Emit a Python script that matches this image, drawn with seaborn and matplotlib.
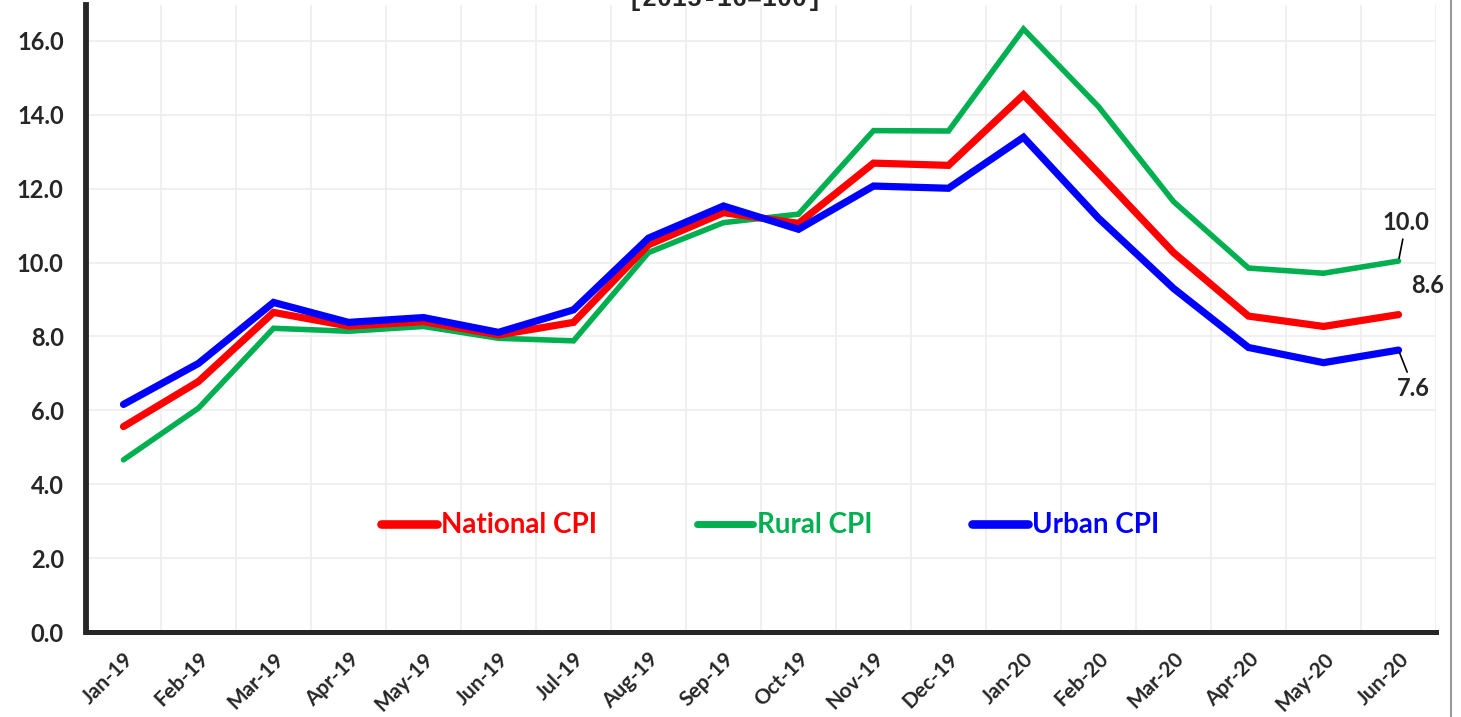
import pandas as pd
import seaborn as sns
import matplotlib.pyplot as plt
from matplotlib.lines import Line2D
from matplotlib.ticker import FixedLocator, NullFormatter

# data
months = ["Jan-19", "Feb-19", "Mar-19", "Apr-19", "May-19", "Jun-19", "Jul-19", "Aug-19", "Sep-19",
          "Oct-19", "Nov-19", "Dec-19", "Jan-20", "Feb-20", "Mar-20", "Apr-20", "May-20", "Jun-20"]
national = [5.56, 6.78, 8.65, 8.28, 8.40, 8.04, 8.38, 10.48, 11.35, 11.06, 12.69, 12.63,
            14.54, 12.42, 10.27, 8.55, 8.27, 8.59]
rural = [4.66, 6.06, 8.22, 8.14, 8.27, 7.95, 7.88, 10.27, 11.08, 11.31, 13.57, 13.56,
         16.32, 14.22, 11.65, 9.85, 9.71, 10.04]
urban = [6.16, 7.27, 8.92, 8.38, 8.51, 8.11, 8.72, 10.66, 11.53, 10.90, 12.07, 12.01,
         13.39, 11.20, 9.30, 7.70, 7.29, 7.63]

series = ["National CPI", "Rural CPI", "Urban CPI"]
colors = {"National CPI": "#FF0000", "Rural CPI": "#00B050", "Urban CPI": "#0000FF"}
widths = {"National CPI": 5.2, "Rural CPI": 4.0, "Urban CPI": 5.2}

df = pd.DataFrame({"idx": range(len(months)), "month": months,
                   "National CPI": national, "Rural CPI": rural, "Urban CPI": urban})
long = df.melt(id_vars=["idx", "month"], value_vars=series, var_name="series", value_name="cpi")

sns.set_style("white")
plt.rcParams["font.family"] = ["Lato", "DejaVu Sans"]
plt.rcParams["font.weight"] = "bold"

fig = plt.figure(figsize=(14.61, 7.17), dpi=100)
ax = fig.add_axes([86 / 1461, 1 - 632 / 717, 1350 / 1461, 627 / 717])

for s in series:
    sns.lineplot(data=long[long["series"] == s], x="idx", y="cpi", color=colors[s],
                 linewidth=widths[s], label=s, ax=ax, solid_capstyle="round",
                 solid_joinstyle="miter", zorder=3 if s != "Rural CPI" else 2)

ax.set_xlim(-0.5, len(months) - 0.5)
ax.set_ylim(0, 16.97)
yt = [0, 2, 4, 6, 8, 10, 12, 14, 16]
ax.set_yticks(yt)
ax.set_yticklabels([f"{v:.1f}" for v in yt], fontsize=17, fontweight="bold")

# category boundaries carry ticks and grid, labels sit at the centres
ax.xaxis.set_major_locator(FixedLocator([i - 0.5 for i in range(len(months) + 1)]))
ax.xaxis.set_major_formatter(NullFormatter())
ax.xaxis.set_minor_locator(FixedLocator(list(range(len(months)))))
ax.set_xticklabels(months, minor=True, rotation=45, ha="right", rotation_mode="anchor",
                   fontsize=15, fontweight="bold")
ax.tick_params(axis="x", which="minor", length=0, pad=12)
ax.tick_params(axis="x", which="major", direction="out", length=6, width=3, color="black")
ax.tick_params(axis="y", direction="out", length=7, width=3.5, color="black", pad=9)

ax.grid(True, which="major", color="#EEEEEE", linewidth=1.2)
ax.set_axisbelow(True)
for side in ["top", "right"]:
    ax.spines[side].set_visible(False)
ax.spines["left"].set_linewidth(4.2)
ax.spines["bottom"].set_linewidth(3.6)
ax.set_xlabel("")
ax.set_ylabel("")

# legend
leg = ax.legend(loc="center", bbox_to_anchor=(0.507, 0.17), ncol=3, frameon=False,
                handlelength=2.0, handletextpad=0.15, columnspacing=3.6,
                prop={"weight": "bold", "size": 20})
for txt, s in zip(leg.get_texts(), series):
    txt.set_color(colors[s])
for h, s in zip(leg.get_lines(), series):
    h.set_linewidth(widths[s] + 1)
    h.set_solid_capstyle("round")

# end-point labels
last = len(months) - 1
ax.annotate(f"{rural[-1]:.1f}", xy=(last, rural[-1]), xytext=(last + 0.1, 11.07),
            ha="center", va="center", fontsize=17, fontweight="bold",
            arrowprops=dict(arrowstyle="-", color="black", lw=1.2, shrinkA=1, shrinkB=2))
ax.text(last + 0.39, 9.37, f"{national[-1]:.1f}", ha="center", va="center",
        fontsize=17, fontweight="bold")
ax.annotate(f"{urban[-1]:.1f}", xy=(last, urban[-1]), xytext=(last + 0.2, 6.6),
            ha="center", va="center", fontsize=17, fontweight="bold",
            arrowprops=dict(arrowstyle="-", color="black", lw=1.2, shrinkA=1, shrinkB=2))

# title, cut off at the top as in the original
fig.text(725 / 1461, 1 - 6 / 717, "[2015-16=100]", ha="center", va="baseline",
         fontsize=18, fontweight="bold", family=["Liberation Mono", "DejaVu Sans Mono"])

# chart-area border on the right
fig.add_artist(Line2D([1451 / 1461, 1451 / 1461], [0, 1], transform=fig.transFigure,
                      color="#999999", linewidth=1.5))

fig.savefig("out.png", dpi=100)
